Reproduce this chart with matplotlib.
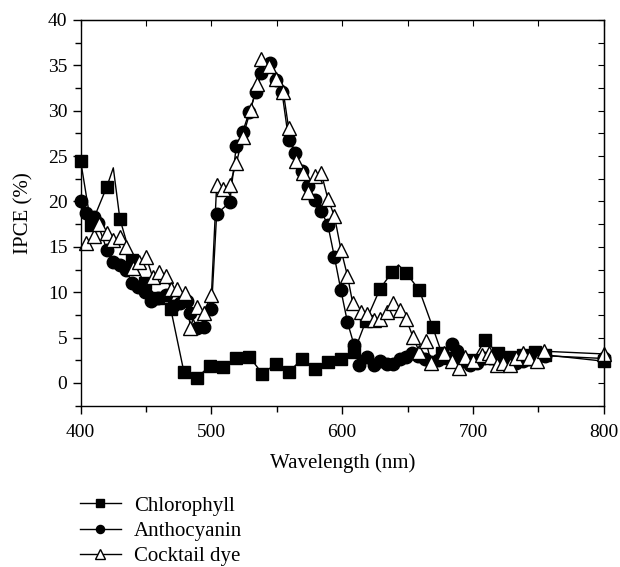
import matplotlib
matplotlib.use("Agg")
import matplotlib.pyplot as plt
from matplotlib.ticker import MultipleLocator

plt.rcParams['font.family'] = ['Liberation Serif', 'DejaVu Serif']

# IPCE spectra
chl_x = [400, 408, 420, 425, 430, 439, 449, 459, 469, 479, 489, 499, 509, 519, 529, 539, 549, 559, 569, 579,
         589, 599, 609, 618, 629, 638, 643, 649, 659, 669, 676, 681, 690, 700, 709, 719, 728, 738, 747, 755, 800]
chl_y = [24.5, 17.4, 21.6, 23.7, 18.1, 13.6, 11.0, 9.4, 8.1, 1.2, 0.6, 1.9, 1.8, 2.7, 2.9, 1.0, 2.1, 1.2, 2.6, 1.5,
         2.3, 2.6, 3.4, 6.8, 10.4, 12.2, 13.0, 12.1, 10.2, 6.2, 3.3, 2.8, 2.6, 2.5, 4.7, 3.3, 2.9, 3.1, 3.4, 3.1, 2.4]
chl_nomark = [425, 643]   # line vertices drawn without a marker

ant_x = [400, 404, 410, 413, 420, 425, 430, 435, 439, 444, 449, 454, 459, 465, 471, 476, 481, 484, 489, 494,
         500, 504, 514, 519, 524, 529, 534, 538, 545, 549, 554, 559, 564, 569, 574, 579, 584, 589, 594, 599,
         604, 609, 613, 619, 624, 629, 634, 639, 644, 649, 653, 658, 663, 668, 673, 678, 684, 688, 693, 698,
         703, 708, 713, 718, 723, 728, 733, 738, 743, 748, 755, 800]
ant_y = [20.0, 18.7, 18.3, 17.6, 14.7, 13.3, 13.0, 12.5, 11.0, 10.6, 10.0, 9.0, 9.4, 9.7, 8.5, 8.8, 9.0, 7.7, 6.1, 6.2,
         8.1, 18.6, 19.9, 26.1, 27.7, 29.9, 32.0, 34.1, 35.2, 33.4, 32.0, 26.8, 25.3, 23.3, 21.7, 20.2, 18.9, 17.4, 13.9, 10.2,
         6.7, 4.2, 2.0, 2.9, 2.0, 2.4, 2.1, 2.1, 2.6, 2.9, 3.3, 3.0, 2.6, 2.3, 2.5, 3.0, 4.3, 3.5, 2.4, 2.0,
         2.2, 2.7, 2.8, 2.5, 2.3, 2.1, 2.2, 2.4, 2.6, 2.8, 3.0, 2.7]

ckt_x = [404, 410, 414, 420, 425, 430, 435, 440, 445, 450, 455, 460, 465, 469, 474, 480, 484, 489, 494, 500,
         504, 509, 514, 519, 524, 530, 535, 538, 544, 549, 555, 559, 565, 570, 574, 579, 584, 589, 594, 599,
         604, 608, 614, 619, 624, 629, 634, 639, 644, 649, 654, 659, 664, 668, 678, 684, 689, 694, 700, 707,
         712, 714, 718, 723, 728, 733, 738, 743, 749, 754, 800]
ckt_y = [15.4, 16.2, 17.5, 16.5, 15.7, 16.1, 15.0, 12.7, 13.3, 13.9, 11.7, 12.2, 11.8, 10.4, 10.3, 9.9, 6.1, 8.4, 7.7, 9.7,
         21.8, 21.4, 21.8, 24.2, 27.1, 30.1, 32.9, 35.7, 34.9, 33.5, 32.0, 28.1, 24.4, 23.1, 21.0, 22.8, 23.1, 20.3, 18.4, 14.7,
         11.8, 8.8, 7.8, 7.6, 6.9, 7.0, 7.8, 8.8, 8.0, 7.0, 5.1, 3.4, 4.6, 2.2, 3.3, 2.4, 1.6, 2.9, 2.4, 3.1,
         3.3, 2.9, 2.0, 2.2, 2.0, 2.8, 3.3, 2.8, 2.4, 3.5, 3.2]

fig = plt.figure(figsize=(6.2, 5.67), dpi=100)
ax = fig.add_axes([0.130, 0.2845, 0.844, 0.6805])

chl_marks = [i for i, x in enumerate(chl_x) if x not in chl_nomark]
ax.plot(chl_x, chl_y, color='black', lw=1.0, marker='s', ms=8.5, mfc='black', mec='black',
        markevery=chl_marks, clip_on=False, label='Chlorophyll')
ax.plot(ant_x, ant_y, color='black', lw=1.0, marker='o', ms=9, mfc='black', mec='black',
        clip_on=False, label='Anthocyanin')
ax.plot(ckt_x, ckt_y, color='black', lw=1.0, marker='^', ms=10, mfc='white', mec='black', mew=1.0,
        clip_on=False, label='Cocktail dye')

ax.set_xlim(400, 800)
ax.set_ylim(-2.5, 40)
ax.xaxis.set_major_locator(MultipleLocator(100))
ax.xaxis.set_minor_locator(MultipleLocator(50))
ax.yaxis.set_major_locator(MultipleLocator(5))
ax.yaxis.set_minor_locator(MultipleLocator(2.5))
ax.tick_params(which='both', direction='out', labelsize=14, width=1)
ax.tick_params(which='major', length=6)
ax.tick_params(which='minor', length=4)
ax.tick_params(axis='x', pad=7)
for s in ax.spines.values():
    s.set_linewidth(1.0)

top = ax.secondary_xaxis('top')
top.xaxis.set_major_locator(MultipleLocator(50))
top.tick_params(direction='in', length=4, labeltop=False)
right = ax.secondary_yaxis('right')
right.yaxis.set_major_locator(MultipleLocator(2.5))
right.tick_params(direction='in', length=4, labelright=False)

ax.set_xlabel('Wavelength (nm)', fontsize=15, labelpad=9)
ax.set_ylabel('IPCE (%)', fontsize=15, labelpad=10)

fig.legend(loc='upper left', bbox_to_anchor=(0.115, 0.14), frameon=False, fontsize=15,
           handlelength=2.0, handletextpad=0.6, labelspacing=0.28, markerscale=0.65, borderaxespad=0)

fig.savefig('out.png', dpi=100)
